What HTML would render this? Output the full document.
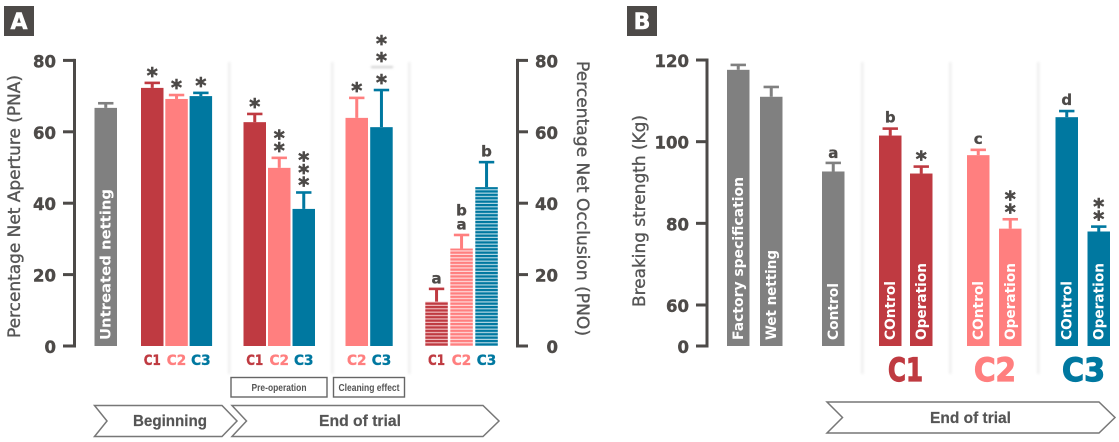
<!DOCTYPE html>
<html lang="en">
<head>
<meta charset="utf-8">
<title>Net aperture, occlusion and breaking strength</title>
<style>
html,body{margin:0;padding:0;background:#fff;width:1119px;height:442px;overflow:hidden}
svg{display:block;filter:blur(.35px)}
text{font-family:"DejaVu Sans","Liberation Sans",sans-serif}
text.plain{font-family:"Liberation Sans","DejaVu Sans",sans-serif}
</style>
</head>
<body>
<svg id="chart" xmlns="http://www.w3.org/2000/svg" width="1119" height="442" viewBox="0 0 1119 442">
<defs>
<filter id="soft" x="-400%" y="-5%" width="900%" height="110%"><feGaussianBlur stdDeviation="1.4"/></filter>
<filter id="smudge" x="-20%" y="-200%" width="140%" height="500%"><feGaussianBlur stdDeviation="1"/></filter>
<pattern id="stripe-red" width="4" height="3.4" patternUnits="userSpaceOnUse"><rect width="4" height="3.4" fill="#BF3A41"/><rect y="2.2" width="4" height="1.1" fill="#f3c4c6"/></pattern>
<pattern id="stripe-pink" width="4" height="3.4" patternUnits="userSpaceOnUse"><rect width="4" height="3.4" fill="#FF7F7F"/><rect y="2.2" width="4" height="1.1" fill="#ffe0e0"/></pattern>
<pattern id="stripe-blue" width="4" height="3.4" patternUnits="userSpaceOnUse"><rect width="4" height="3.4" fill="#0078A0"/><rect y="2.2" width="4" height="1.1" fill="#bfe0ea"/></pattern>
</defs>
</svg>
<script>
// ---- Panel A data (percentage net aperture) ----
const apertureTicks = [0, 20, 40, 60, 80];
const occlusionTicks = [0, 20, 40, 60, 80];
const untreatedValues = [66.7];
const untreatedErrors = [1.3];
const beginningCategories = ['C1', 'C2', 'C3'];
const beginningValues = [72.3, 69.2, 70];
const beginningErrors = [1.4, 1.1, 0.9];
const beginningStars = [1, 1, 1];
const preOperationCategories = ['C1', 'C2', 'C3'];
const preOperationValues = [62.7, 49.9, 38.4];
const preOperationErrors = [2.3, 2.8, 4.6];
const preOperationStars = [1, 2, 3];
const cleaningCategories = ['C2', 'C3'];
const cleaningValues = [63.9, 61.3];
const cleaningErrors = [5.6, 10.4];
const cleaningStars = [1, 3];
// ---- Panel A data (percentage net occlusion) ----
const occlusionCategories = ['C1', 'C2', 'C3'];
const occlusionValues = [12.4, 27.3, 44.5];
const occlusionErrors = [3.6, 3.8, 7];
const occlusionLetters = ['a', 'b a', 'b'];
// ---- Panel B data (breaking strength) ----
const strengthTicks = [0, 60, 80, 100, 120];
const referenceCategories = ['Factory specification', 'Wet netting'];
const referenceValues = [117.6, 111];
const referenceErrors = [1.2, 2.4];
const controlCategories = ['Control'];
const controlValues = [92.7];
const controlErrors = [2.1];
const controlLetters = ['a'];
const treatmentCategories = ['COntrol', 'Operation'];
const c1Values = [101.5, 92.2];
const c1Errors = [1.7, 1.7];
const c2Values = [96.7, 78.7];
const c2Errors = [1.3, 2.3];
const c3Values = [106, 78];
const c3Errors = [1.5, 1.2];

const RED = '#BF3A41', PINK = '#FF7F7F', BLUE = '#0078A0', GRAY = '#808080', DARK = '#4D4A48';
const colorOf = { C1: RED, C2: PINK, C3: BLUE };
const stripeOf = { C1: 'url(#stripe-red)', C2: 'url(#stripe-pink)', C3: 'url(#stripe-blue)' };
const svg = document.getElementById('chart');
const NS = 'http://www.w3.org/2000/svg';

// axis functions
function yA(v) { return 346 - v * 3.57; }
function yB(v) {
  if (v <= 60) return 346 - v * (41 / 60);
  return 305 - (v - 60) * 4.083;
}

function make(tag, name, attrs, txt) {
  const el = document.createElementNS(NS, tag);
  
  
  for (const k in attrs) el.setAttribute(k, attrs[k]);
  if (txt !== undefined) el.textContent = txt;
  svg.appendChild(el);
  return el;
}
function label(name, x, y, txt, size, fill, weight, anchor, len, heavy) {
  const a = { x: x, y: y, 'font-size': size, fill: fill, 'font-weight': weight, 'text-anchor': anchor };
  if (len) { a.textLength = len; a.lengthAdjust = 'spacingAndGlyphs'; }
  if (heavy) { a.stroke = fill; a['stroke-width'] = heavy; }
  return make('text', name, a, txt);
}
function rotated(name, cx, startY, txt, size, fill, weight, len, angle, heavy) {
  const a = { transform: 'translate(' + cx + ' ' + startY + ') rotate(' + angle + ')', 'font-size': size, fill: fill, 'font-weight': weight, textLength: len, lengthAdjust: 'spacingAndGlyphs' };
  if (heavy) { a.stroke = fill; a['stroke-width'] = heavy; }
  return make('text', name, a, txt);
}
function bar(name, x, w, v, err, y, fill, errColor) {
  const top = y(v), cap = y(v + err), cx = x + w / 2;
  make('rect', name + '-error-stem', { x: cx - 1.5, y: cap, width: 3, height: top - cap, fill: errColor });
  make('rect', name + '-error-cap', { x: cx - 7.7, y: cap - 1.3, width: 15.4, height: 2.6, fill: errColor });
  make('rect', name, { x: x, y: top, width: w, height: y(0) - top, fill: fill });
  return { cx: cx, cap: cap };
}
function stars(name, cx, cap, count, gaps) {
  let yy = cap - 10;
  for (let i = 0; i < count; i++) {
    label(name + '-significance-star', cx, yy + 10, '*', 21, DARK, 'bold', 'middle', null, 0.7);
    yy -= gaps ? gaps[i] : 12.6;
  }
}
function letter(name, cx, yy, t) {
  label(name, cx, yy + 5, t, 15, DARK, 'bold', 'middle', null, 0.3);
}
function separator(name, x) {
  make('rect', name, { x: x, y: 62, width: 2.6, height: 312, fill: '#efefef', filter: 'url(#soft)' });
}
function badge(name, x, t) {
  make('rect', name, { x: x, y: 6, width: 30, height: 30, fill: DARK });
  label(name + '-letter', x + 15, 29, t, 22, '#fff', 'bold', 'middle', null, 0.5);
}
function chevron(name, l, n, r, tip, top, bottom, t, tx, tlen, ty) {
  const mid = (top + bottom) / 2;
  const pts = [[l, top], [r, top], [tip, mid], [r, bottom], [l, bottom], [n, mid]].map(p => p.join(',')).join(' ');
  make('polygon', name, { points: pts, fill: '#fff', stroke: '#777', 'stroke-width': 1.5 });
  const el = label(name + '-label', tx, ty, t, 16, '#555', 'bold', 'start', tlen, 0.2);
  el.setAttribute('class', 'plain');
}
function axisLeft(name, lineX, tickLeft, tickRight, ticks, y, labelRight, side) {
  const yTop = y(ticks[ticks.length - 1]), yBot = y(0);
  make('rect', name + '-line', { x: lineX - 1.5, y: yTop - 1.5, width: 3, height: yBot - yTop + 3, fill: DARK });
  ticks.forEach(function (t) {
    make('rect', name + '-tick', { x: tickLeft, y: y(t) - 1.5, width: tickRight - tickLeft, height: 3, fill: DARK });
    label(name + '-tick-label', labelRight, y(t) + 7, String(t), 16.5, DARK, 'bold', side, null, 0.4);
  });
}

// separators
[228, 331, 408].forEach(function (x) { separator('group-separator', x); });
[861, 949, 1037].forEach(function (x) { separator('group-separator', x); });
make('rect', 'label-smudge', { x: 371, y: 66, width: 22, height: 2.2, fill: '#d4d4d4', filter: 'url(#smudge)' });

// panel badges and titles
badge('panel-a-badge', 4, 'A');
badge('panel-b-badge', 627, 'B');
rotated('left-y-axis-title', 20, 338, 'Percentage Net Aperture (PNA)', 17, '#555', 'normal', 263, -90, 0.35);
rotated('right-y-axis-title', 577, 61, 'Percentage Net Occlusion (PNO)', 17, '#555', 'normal', 275, 90, 0.35);
rotated('strength-y-axis-title', 645, 307, 'Breaking strength (Kg)', 17, '#555', 'normal', 192, -90, 0.35);

// axes
axisLeft('aperture-axis', 74.5, 63, 75, apertureTicks, yA, 56, 'end');
axisLeft('occlusion-axis', 517.5, 517, 528, occlusionTicks, yA, 558, 'end');
axisLeft('strength-axis', 707, 696, 707, strengthTicks, yB, 689, 'end');

// Panel A bars
const W = 22.5;
function groupA(prefix, left, step, cats, vals, errs, starCounts) {
  cats.forEach(function (c, i) {
    const x = left + i * step;
    const b = bar(prefix + '-bar-' + c.toLowerCase(), x, W, vals[i], errs[i], yA, colorOf[c], colorOf[c]);
    const gaps = prefix === 'cleaning' && i === 1 ? [22, 17] : null;
    stars(prefix + '-' + c.toLowerCase(), b.cx, b.cap, starCounts[i], gaps);
    label(prefix + '-label-' + c.toLowerCase(), b.cx, 365, c, 14.5, colorOf[c], 'bold', 'middle', c === 'C1' ? 17 : 19.5, 0.35);
  });
}
bar('untreated-bar', 94.5, W, untreatedValues[0], untreatedErrors[0], yA, GRAY, GRAY);
rotated('untreated-bar-label', 110.5, 340, 'Untreated netting', 14, '#fff', 'bold', 151, -90);
groupA('beginning', 141, 24.3, beginningCategories, beginningValues, beginningErrors, beginningStars);
groupA('pre-operation', 243.5, 24.5, preOperationCategories, preOperationValues, preOperationErrors, preOperationStars);
groupA('cleaning', 345.5, 24.7, cleaningCategories, cleaningValues, cleaningErrors, cleaningStars);
occlusionCategories.forEach(function (c, i) {
  const x = 425.3 + i * 25;
  const b = bar('occlusion-bar-' + c.toLowerCase(), x, W, occlusionValues[i], occlusionErrors[i], yA, stripeOf[c], colorOf[c]);
  const parts = occlusionLetters[i].split(' ').reverse();
  parts.forEach(function (p, k) {
    letter('occlusion-letter-' + c.toLowerCase(), b.cx, b.cap - 10.5 - k * 14, p);
  });
  label('occlusion-label-' + c.toLowerCase(), b.cx, 365, c, 14.5, colorOf[c], 'bold', 'middle', c === 'C1' ? 17 : 19.5, 0.35);
});

// Annotation boxes and chevrons, panel A
make('rect', 'pre-operation-box', { x: 231, y: 377.5, width: 96, height: 19.5, fill: '#fff', stroke: '#666', 'stroke-width': 1.4 });
label('pre-operation-box-label', 279, 391, 'Pre-operation', 10, '#555', 'bold', 'middle', 55).setAttribute('class', 'plain');
make('rect', 'cleaning-effect-box', { x: 333.5, y: 377.5, width: 71, height: 19.5, fill: '#fff', stroke: '#666', 'stroke-width': 1.4 });
label('cleaning-effect-box-label', 369, 391, 'Cleaning effect', 10, '#555', 'bold', 'middle', 61).setAttribute('class', 'plain');
chevron('beginning-banner', 94.5, 107, 222, 237, 405.5, 436.5, 'Beginning', 133, 74, 426);
chevron('end-of-trial-banner-a', 232, 246.5, 483, 499, 405.5, 436.5, 'End of trial', 319, 82, 426);

// Panel B bars
referenceCategories.forEach(function (c, i) {
  const x = 727 + i * 33;
  bar('reference-bar-' + (i + 1), x, W, referenceValues[i], referenceErrors[i], yB, GRAY, GRAY);
  rotated('reference-bar-label-' + (i + 1), x + 16, 340, c, 14, '#fff', 'bold', i === 0 ? 163 : 90, -90);
});
const ctrl = bar('control-bar', 822, W, controlValues[0], controlErrors[0], yB, GRAY, GRAY);
letter('control-letter', ctrl.cx, ctrl.cap - 10, controlLetters[0]);
rotated('control-bar-label', 838, 340, controlCategories[0], 14, '#fff', 'bold', 57, -90);

function groupB(key, left, step, vals, errs, color, lt, starCount, bigX, bigLen) {
  treatmentCategories.forEach(function (c, i) {
    const x = left + i * step;
    const n = key + '-' + c.toLowerCase();
    const b = bar(n + '-bar', x, W, vals[i], errs[i], yB, color, color);
    if (i === 0) letter(n + '-letter', b.cx, b.cap - 11, lt);
    else stars(n, b.cx, b.cap, starCount);
    rotated(n + '-bar-label', x + 16, 340, c, 14, '#fff', 'bold', i === 0 ? 59 : 77, -90);
  });
  label(key + '-group-label', bigX, 381, key.toUpperCase(), 32, color, 'bold', 'start', bigLen, 1.2);
}
groupB('c1', 879, 31, c1Values, c1Errors, RED, 'b', 1, 888, 35);
groupB('c2', 967, 32, c2Values, c2Errors, PINK, 'c', 2, 974, 42);
groupB('c3', 1055.5, 32, c3Values, c3Errors, BLUE, 'd', 2, 1062, 43);
chevron('end-of-trial-banner-b', 827, 842.5, 1099, 1115, 402, 433, 'End of trial', 930, 81, 423);
</script>
</body>
</html>
